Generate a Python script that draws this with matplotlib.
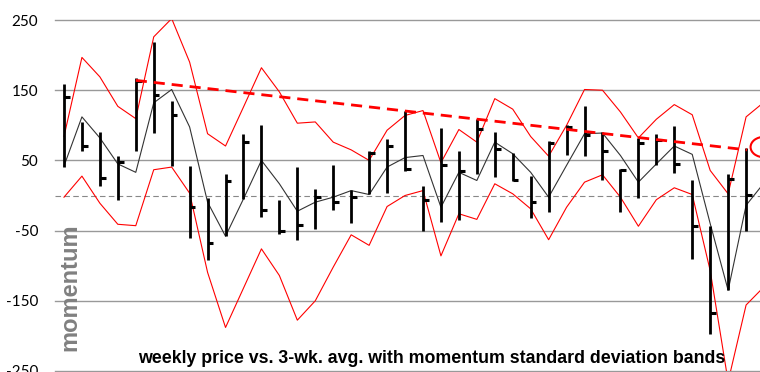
import matplotlib
matplotlib.use('Agg')
import matplotlib.pyplot as plt
from matplotlib.patches import Ellipse
import numpy as np

# ---- data ----
high = [158.6, 104.8, 90.5, 56, 167.6, 218, 134.8, 41.4, -3.3, 31, 87, 100, -7,
        40.5, 8.6, 44, 8, 64, 81, 120, 13, 96, 63, 108.6, 90.5, 61, 27.6, 77.6,
        101, 127, 90.5, 38, 82, 88, 99, 21.4, -43, 31, 67.6]
low = [40.5, 63, 12.9, -6, 64, 89, 42, -61, -92, -58, -4.8, -30, -55,
       -63, -47.6, -20.5, -39.5, 2.4, 3.8, 35, -51, -38, -35, 30, 26, 20, -32, -23.8,
       58, 56, 21.4, -23.8, -3.3, 44, 32, -90.5, -197.6, -134.8, -51]
close = [140, 70, 24.8, 47.6, 163, 143, 115, -16.7, -68, 20, 76, -20.5, -50,
         -41.4, -2.4, -8.6, -2.4, 60.5, 70.5, 38, -7, 43, 34.7, 95, 65.7, 21.4, -8.6, 74.8,
         97.6, 86.7, 63, 35.7, 74.8, 78.6, 45, -44, -168, 23.8, 1.4]
avg3 = [42, 112, 82, 45, 33, 132, 151, 97.6, -9.5, -58, -4.8, 50, 16.7,
        -22.4, -9.5, -2.4, 7, 1.4, 40.5, 54, 57, -16.7, 33, 21.4, 76, 59.5, 33, -2.4,
        43, 88, 89, 57, 19, 45, 70.5, 58.6, -40, -135, -14, 18]
upper_band = [84, 196.7, 169, 127, 109.5, 226, 252, 190, 88, 70.5, 126, 182, 147.6,
              103, 104.8, 76, 65, 50, 93, 114, 121, 46.7, 94, 76, 138, 123, 84, 56,
              100, 151, 150, 119, 82, 108.6, 129.5, 115, 35.7, 2.4, 112, 133]
lower_band = [-2.4, 27.6, -11, -41, -43, 36.7, 40.5, 3.3, -109.5, -188, -132, -76, -114,
              -177.6, -150, -102, -56, -71, -15.7, 0, 7, -86, -26, -34, 16.7, 2.4, -19, -63,
              -16.7, 19, 29.5, -2.4, -43.8, -6, 11, 1.4, -107, -265, -156, -130]
trend_x = [4, 38.05]
trend_y = [164, 65]
marker_center = (39.0, 69)
y_ticks = [250, 150, 50, -50, -150, -250]
title = "weekly price vs. 3-wk. avg. with momentum standard deviation bands"
ylabel = "momentum"

weeks = np.arange(len(high))
band_x = np.arange(len(upper_band))

fig = plt.figure(figsize=(7.6, 3.72), dpi=100)
ax = fig.add_axes([55/760, 1/372, 705/760, 351/372])
ax.set_xlim(-0.5, 38.775)
ax.set_ylim(-250, 250)
for s in ax.spines.values():
    s.set_visible(False)
ax.set_xticks([])
ax.set_yticks(y_ticks)
ax.set_yticklabels([str(t) for t in y_ticks], fontsize=11, family='Lato')
ax.tick_params(axis='y', length=0, pad=12)

for t in y_ticks:
    ax.axhline(t, color='#999999', lw=1.0, zorder=1, clip_on=False)
ax.axhline(0, color='#888888', lw=0.8, ls=(0, (5, 3)), zorder=1)

ax.plot(band_x, upper_band, color='#ff0000', lw=0.8, zorder=3)
ax.plot(band_x, lower_band, color='#ff0000', lw=0.8, zorder=3)
ax.plot(band_x, avg3, color='#333333', lw=0.8, zorder=3)

ax.vlines(weeks, low, high, color='black', lw=2.0, zorder=4)
ax.hlines(close, weeks, weeks + 0.32, color='black', lw=2.2, zorder=4)

ax.plot(trend_x, trend_y, color='#ff0000', lw=2.0, ls=(0, (4, 2.5)), zorder=5)
ax.add_patch(Ellipse(marker_center, width=1.5, height=29, fill=False,
                     edgecolor='#ff0000', lw=1.5, zorder=5))

fig.text(70/760, 1 - 287.5/372, ylabel, rotation=90, color='#808080', fontsize=17,
         fontweight='bold', ha='center', va='center', family='Liberation Sans')
fig.text(432/760, 9/372, title, fontsize=12.75, fontweight='bold', ha='center',
         va='baseline', family='Liberation Sans')

fig.savefig('out.png', dpi=100)
